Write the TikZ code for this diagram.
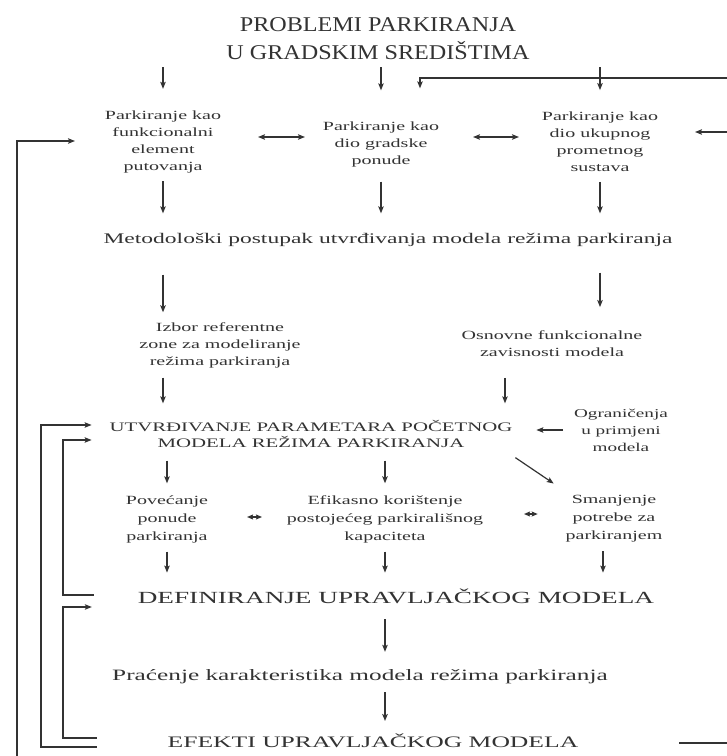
\documentclass[tikz,border=0pt]{standalone}
\usepackage{fontspec}
\setmainfont{Liberation Serif}
\newfontfamily\bodyf[FakeStretch=1.6]{Liberation Serif}
\newfontfamily\titlef[FakeStretch=1.15]{Liberation Serif}
\usetikzlibrary{arrows.meta,calc}
\definecolor{ink}{gray}{0.2}
\begin{document}
\begin{tikzpicture}[x=1pt,y=-1pt,
  txt/.style={inner sep=0pt, outer sep=0pt, align=center, text=ink,
    font=\bodyf\fontsize{12.5}{17}\selectfont},
  rowtxt/.style={txt, font=\bodyf\fontsize{12.5}{18}\selectfont},
  big/.style={inner sep=0pt, outer sep=0pt, align=center, text=ink},
  line/.style={draw=ink, line width=1.2pt},
  arr/.style={line, -{Stealth[length=7pt,width=5.5pt,inset=1.5pt]}},
  darr/.style={line, {Stealth[length=7pt,width=5.5pt,inset=1.5pt]}-{Stealth[length=7pt,width=5.5pt,inset=1.5pt]}},
  sdarr/.style={line, {Stealth[length=6pt,width=5pt,inset=1pt]}-{Stealth[length=6pt,width=5pt,inset=1pt]}}
]
\useasboundingbox (0,0) rectangle (727,756);
\fill[white] (0,0) rectangle (727,756);

% x-levels of the left feedback lines and free ends on the page edges
\coordinate (xmid) at (41,0);
\coordinate (xin)  at (63,0);
\coordinate (bl)   at (17,756);
\coordinate (rtop) at (727,78);
\coordinate (rmid) at (727,132);
\coordinate (rbot) at (727,743);

% nodes
\node[big, font=\titlef\fontsize{21}{28}\selectfont] (title) at (378,39)
  {PROBLEMI PARKIRANJA\\U GRADSKIM SREDIŠTIMA};
\node[txt] (b1) at (163,142) {Parkiranje kao\\funkcionalni\\element\\putovanja};
\node[txt] (b2) at (381,144) {Parkiranje kao\\dio gradske\\ponude};
\node[txt] (b3) at (600,142) {Parkiranje kao\\dio ukupnog\\prometnog\\sustava};
\node[big, font=\bodyf\fontsize{14.7}{17}\selectfont] (meth) at (388,240)
  {Metodološki postupak utvrđivanja modela režima parkiranja};
\node[txt] (izbor) at (220,345) {Izbor referentne\\zone za modeliranje\\režima parkiranja};
\node[txt] (osn) at (552,344) {Osnovne funkcionalne\\zavisnosti modela};
\node[big, font=\bodyf\fontsize{13}{16}\selectfont] (utv) at (311,434)
  {UTVRĐIVANJE PARAMETARA POČETNOG\\MODELA REŽIMA PARKIRANJA};
\node[txt, font=\bodyf\fontsize{12}{17}\selectfont] (ogr) at (621,430) {Ograničenja\\u primjeni\\modela};
\node[rowtxt] (pov) at (167,519) {Povećanje\\ponude\\parkiranja};
\node[rowtxt] (efik) at (385,519) {Efikasno korištenje\\postojećeg parkirališnog\\kapaciteta};
\node[rowtxt] (sman) at (614,519) {Smanjenje\\potrebe za\\parkiranjem};
\node[big, font=\bodyf\fontsize{17}{20}\selectfont] (def) at (396,596)
  {DEFINIRANJE UPRAVLJAČKOG MODELA};
\node[big, font=\bodyf\fontsize{15.8}{19}\selectfont] (prac) at (360,677)
  {Praćenje karakteristika modela režima parkiranja};
\node[big, font=\bodyf\fontsize{16}{19}\selectfont] (efe) at (373,741)
  {EFEKTI UPRAVLJAČKOG MODELA};

% title to the three views
\draw[arr, shorten <=7pt, shorten >=22pt] (title.south -| b1) -- (b1.north);
\draw[arr, shorten <=7pt, shorten >=31pt] (title.south -| b2) -- (b2.north);
\draw[arr, shorten <=7pt, shorten >=22pt] (title.south -| b3) -- (b3.north);

% links between the three views
\draw[darr, shorten <=37pt, shorten >=18pt] ($(b1.east)+(0,-5)$) -- ($(b1.east -| b2.west)+(0,-5)$);
\draw[darr, shorten <=34pt, shorten >=23pt] ($(b2.east)+(0,-7)$) -- ($(b2.east -| b3.west)+(0,-7)$);

% views to the method
\draw[arr, shorten <=8pt, shorten >=20pt] (b1.south) -- (b1.south |- meth.north);
\draw[arr, shorten <=15pt, shorten >=20pt] (b2.south) -- (b2.south |- meth.north);
\draw[arr, shorten <=10pt, shorten >=20pt] (b3.south) -- (b3.south |- meth.north);

% method to its two inputs
\draw[arr, shorten <=28pt, shorten >=10pt] (meth.south -| b1) -- (izbor.north -| b1);
\draw[arr, shorten <=26pt, shorten >=24pt] (meth.south -| b3) -- (osn.north -| b3);

% inputs to the initial model
\draw[arr, shorten <=10pt, shorten >=17pt] (izbor.south -| b1) -- (utv.north -| b1);
\draw[arr, shorten <=21pt, shorten >=17pt] ($(osn.south)+(-47,0)$) -- ($(osn.south |- utv.north)+(-47,0)$);
\draw[arr, shorten <=11pt, shorten >=24pt] (ogr.west) -- (ogr.west -| utv.east);

% initial model to the three measures
\draw[arr, shorten <=13pt, shorten >=12pt] (utv.south -| pov) -- (pov.north);
\draw[arr, shorten <=13pt, shorten >=12pt] (utv.south -| efik) -- (efik.north);
\draw[arr] ($(utv.south east)+(3,10)$) -- ($(sman.north west)+(-12,-12)$);

% links between the measures
\draw[sdarr, shorten <=39pt, shorten >=25pt] ($(pov.east)+(0,-2)$) -- ($(pov.east -| efik.west)+(0,-2)$);
\draw[sdarr, shorten <=41pt, shorten >=28pt] ($(efik.east)+(0,-5)$) -- ($(efik.east -| sman.west)+(0,-5)$);

% measures to the control model
\draw[arr, shorten <=9pt, shorten >=16pt] (pov.south) -- (pov.south |- def.north);
\draw[arr, shorten <=9pt, shorten >=16pt] (efik.south) -- (efik.south |- def.north);
\draw[arr, shorten <=9pt, shorten >=16pt] ($(sman.south)+(-11,0)$) -- ($(sman.south |- def.north)+(-11,0)$);

% main line down
\draw[arr, shorten <=16pt, shorten >=18pt] (def.south -| efik) -- (prac.north -| efik);
\draw[arr, shorten <=8pt, shorten >=13pt] (prac.south -| efik) -- (efe.north -| efik);

% feedback on the left
\draw[arr, shorten <=44pt, shorten >=18pt] ($(def.west)+(0,-1)$) -- ($(def.west -| xin)+(0,-1)$) |- ($(utv.west)+(0,6)$);
\draw[arr, shorten <=71pt, shorten >=46pt] ($(efe.west)+(0,-3)$) -- ($(efe.west -| xin)+(0,-3)$) |- ($(def.west)+(0,11)$);
\draw[arr, shorten <=71pt, shorten >=18pt] ($(efe.west)+(0,6)$) -- ($(efe.west -| xmid)+(0,6)$) |- ($(utv.west)+(0,-9)$);
\draw[arr, shorten >=30pt] (bl) |- ($(b1.west)+(0,-1)$);

% feedback on the right
\draw[arr, shorten >=33pt] (rtop) -| ($(b2.north)+(39,0)$);
\draw[arr, shorten >=37pt] (rmid) -- (rmid -| b3.east);
\draw[line, shorten <=101pt] ($(efe.east)+(0,2)$) -- (rbot);
\end{tikzpicture}
\end{document}
